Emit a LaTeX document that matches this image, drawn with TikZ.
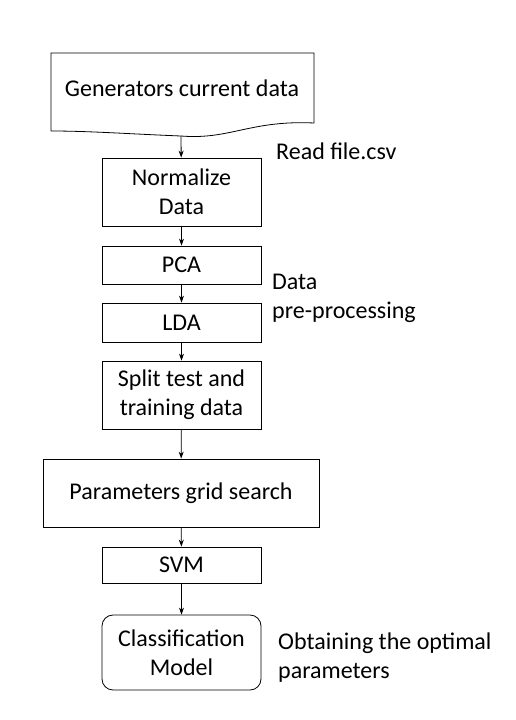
\documentclass[tikz,border=0pt]{standalone}
\usepackage{fontspec}
\setmainfont{Carlito}
\usetikzlibrary{arrows.meta}

\tikzset{
  box/.style={draw, line width=0.8pt, inner sep=0pt, align=center, minimum width=159pt},
  note/.style={anchor=west, align=left, inner sep=0pt},
  flow/.style={-{Stealth[length=7pt,width=5pt]}, line width=0.8pt}
}

\begin{document}
\begin{tikzpicture}[x=1pt, y=1pt, font=\fontsize{24}{29}\selectfont]
\useasboundingbox (0,0) rectangle (515,-720);

% input data (document shape)
\draw[line width=0.8pt] (51,-131) -- (51,-53) -- (314,-53) -- (314,-123)
  .. controls (250,-120) and (230,-140) .. (181,-136)
  .. controls (130,-134) and (90,-131) .. (51,-131);
\node (gen) at (182,-88) {Generators current data};
\coordinate (genb) at (181,-136);

% processing steps
\node[box, minimum height=68pt] (norm) at (181.5,-192) {Normalize\\Data};
\node[box, minimum height=38pt] (pca) at (181.5,-265) {PCA};
\node[box, minimum height=39pt] (lda) at (181.5,-322.5) {LDA};
\node[box, minimum height=68pt] (split) at (181.5,-395) {Split test and\\training data};
\node[box, minimum height=68pt, minimum width=276pt] (grid) at (181,-493) {Parameters grid search};
\node[box, minimum height=36pt] (svm) at (181.5,-565) {SVM};
\node[box, minimum height=75pt, rounded corners=11pt] (model) at (181.5,-652.5) {Classification\\Model};

\draw[flow] (genb) -- (norm);
\draw[flow] (norm) -- (pca);
\draw[flow] (pca) -- (lda);
\draw[flow] (lda) -- (split);
\draw[flow] (split) -- (grid);
\draw[flow] (grid) -- (svm);
\draw[flow] (svm) -- (model);

% side notes
\node[note] (read) at (276,-151) {Read file.csv};
\node[note] (pre) at (272,-298) {Data\\pre-processing};
\node[note] (opt) at (278,-658) {Obtaining the optimal\\parameters};
\end{tikzpicture}
\end{document}
